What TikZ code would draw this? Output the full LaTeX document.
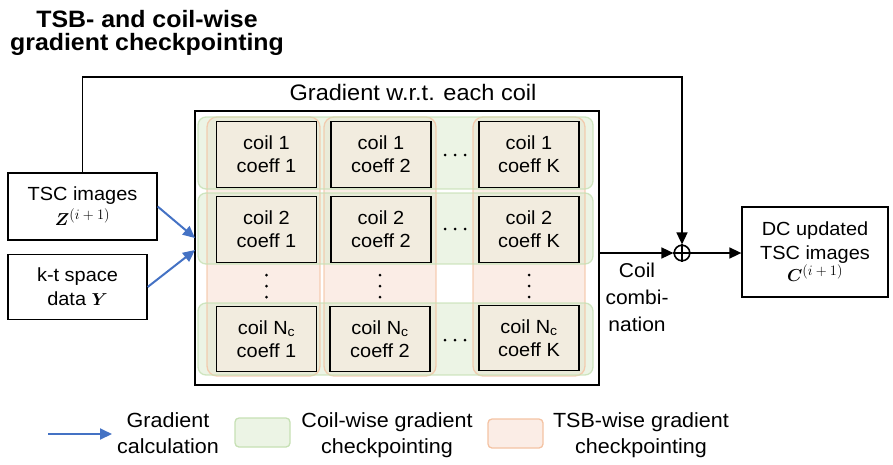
\documentclass[tikz,border=0pt]{standalone}
\usepackage{fontspec}
\setmainfont[FakeStretch=1.05]{Liberation Sans}
\usepackage{amsmath,bm}
\usetikzlibrary{arrows.meta}

\definecolor{gradblue}{HTML}{4472C4}
\definecolor{coilfill}{HTML}{DCEBCF}
\definecolor{coilline}{HTML}{C6E0B4}
\definecolor{tsbfill}{HTML}{FBEDE6}
\definecolor{tsbline}{HTML}{F4C3A3}
\definecolor{cellfill}{HTML}{F2ECDF}

% stacked lines whose reference point is the baseline of the first line
\newcommand{\txtstack}[1]{\begin{tabular}[t]{@{}c@{}}#1\end{tabular}}
% bold variable with a large iteration superscript
\newcommand{\itervar}[1]{{\fontsize{16}{16}\selectfont
  $\bm{#1}^{\text{\fontsize{14}{14}\selectfont$(i+1)$}}$}}
\newcommand{\boldvar}[1]{{\fontsize{17}{17}\selectfont$\bm{#1}$}}

\tikzset{
  cellbox/.style={draw=black, line width=1.3pt, fill=cellfill,
    minimum width=100pt, minimum height=65.5pt, inner sep=0pt, align=center,
    font=\fontsize{19}{23}\selectfont},
  plainbox/.style={draw=black, line width=1.3pt, fill=white, inner sep=0pt,
    align=center, font=\fontsize{19}{24}\selectfont},
  label/.style={inner sep=0pt, anchor=base},
  coilgrp/.style={rounded corners=8pt},
  tsbgrp/.style={rounded corners=10pt},
  flow/.style={line width=1.6pt, -{Triangle[length=12pt,width=11pt]}},
  gradarrow/.style={gradblue, line width=2pt, -{Triangle[length=12pt,width=11pt]}},
  dotmark/.style={fill=black},
}

\begin{document}
\begin{tikzpicture}[x=1pt, y=-1pt]
\useasboundingbox (0,0) rectangle (893,464);

% title
\node[label, font=\bfseries\fontsize{23.7}{22.6}\selectfont] (title) at (147,27)
  {\txtstack{TSB- and coil-wise\\gradient checkpointing}};

% gradient block
\node[draw=black, line width=2.2pt, minimum width=404pt, minimum height=274pt,
  inner sep=0pt] (grad) at (397,248) {};
\node[label, font=\fontsize{22.4}{26}\selectfont] (gradtitle) at (413,100)
  {Gradient w.r.t. each coil};

% checkpointing groups: TSB columns and coil rows
\fill[tsbgrp, tsbfill] (207,117) rectangle (320,376);
\fill[tsbgrp, tsbfill] (324,117) rectangle (436,376);
\fill[tsbgrp, tsbfill] (473,117) rectangle (585,376);
\fill[coilgrp, coilfill, fill opacity=0.55] (198,117) rectangle (593,189);
\fill[coilgrp, coilfill, fill opacity=0.55] (198,193) rectangle (593,264);
\fill[coilgrp, coilfill, fill opacity=0.55] (198,303) rectangle (593,375);
\draw[tsbgrp, tsbline, line width=1.3pt, draw opacity=0.8] (207,117) rectangle (320,376);
\draw[tsbgrp, tsbline, line width=1.3pt, draw opacity=0.8] (324,117) rectangle (436,376);
\draw[tsbgrp, tsbline, line width=1.3pt, draw opacity=0.8] (473,117) rectangle (585,376);
\draw[coilgrp, coilline, line width=1.3pt, draw opacity=0.8] (198,117) rectangle (593,189);
\draw[coilgrp, coilline, line width=1.3pt, draw opacity=0.8] (198,193) rectangle (593,264);
\draw[coilgrp, coilline, line width=1.3pt, draw opacity=0.8] (198,303) rectangle (593,375);

% cells
\node[cellbox] (c11) at (266.5,154.5) {coil 1\\coeff 1};
\node[cellbox] (c12) at (381,154.5) {coil 1\\coeff 2};
\node[cellbox] (c1k) at (529,154.5) {coil 1\\coeff K};
\node[cellbox] (c21) at (266.5,229.5) {coil 2\\coeff 1};
\node[cellbox] (c22) at (381,229.5) {coil 2\\coeff 2};
\node[cellbox] (c2k) at (529,229.5) {coil 2\\coeff K};
\node[cellbox] (cn1) at (266.5,339) {coil N\textsubscript{c}\\coeff 1};
\node[cellbox] (cn2) at (380,339) {coil N\textsubscript{c}\\coeff 2};
\node[cellbox] (cnk) at (529,338) {coil N\textsubscript{c}\\coeff K};

% ellipses
\foreach \yy in {155,229,340}
  \foreach \xx in {445,455,465}
    \fill[dotmark] (\xx,\yy) circle (1.5pt);
\foreach \xx in {266.5,380,529}
  \foreach \yy in {275,286,297}
    \fill[dotmark] (\xx,\yy) circle (1.5pt);

% inputs
\node[plainbox, minimum width=149pt, minimum height=67pt] (tsc) at (82.5,206.5)
  {TSC images\\[1pt]\itervar{Z}};
\node[plainbox, minimum width=139pt, minimum height=65pt] (kt) at (77.5,287)
  {k-t space\\data \boldvar{Y}};

% output
\node[plainbox, minimum width=146pt, minimum height=90pt] (dc) at (815,252)
  {DC updated\\TSC images\\[-2pt]\itervar{C}};

% summation
\node[draw=black, line width=1.6pt, circle, minimum size=15.6pt, inner sep=0pt]
  (plus) at (682,253) {};
\draw[line width=1.6pt] (plus.north) -- (plus.south) (plus.west) -- (plus.east);

\node[label, font=\fontsize{20}{27}\selectfont] (combo) at (637,277)
  {\txtstack{Coil\\combi-\\nation}};

% connectors
\coordinate (topy) at (0,77);
\coordinate (in1) at (195,238);
\coordinate (in2) at (195,250);
\draw[gradarrow] (tsc.east) -- (in1);
\draw[gradarrow] (kt.east) -- (in2);
\draw[flow] (grad.east |- plus.west) -- (plus.west);
\draw[flow] (plus.east) -- (plus.east -| dc.west);
\draw[flow] (tsc.north) -- (tsc.north |- topy) -- (plus.north |- topy) -- (plus.north);

% legend
\coordinate (lgA) at (48,434);
\coordinate (lgB) at (112,434);
\draw[gradarrow] (lgA) -- (lgB);
\node[label, font=\fontsize{20.5}{26}\selectfont] (lgtxt1) at (168,427)
  {\txtstack{Gradient\\calculation}};
\fill[coilfill, fill opacity=0.55, rounded corners=4pt] (235,418) rectangle (290,447);
\draw[coilline, line width=1.3pt, rounded corners=4pt] (235,418) rectangle (290,447);
\node[label, font=\fontsize{20.5}{26}\selectfont] (lgtxt2) at (387,427)
  {\txtstack{Coil-wise gradient\\checkpointing}};
\fill[tsbfill, rounded corners=4pt] (488,419) rectangle (543,448);
\draw[tsbline, line width=1.3pt, rounded corners=4pt] (488,419) rectangle (543,448);
\node[label, font=\fontsize{20.5}{26}\selectfont] (lgtxt3) at (641,427)
  {\txtstack{TSB-wise gradient\\checkpointing}};
\end{tikzpicture}
\end{document}
